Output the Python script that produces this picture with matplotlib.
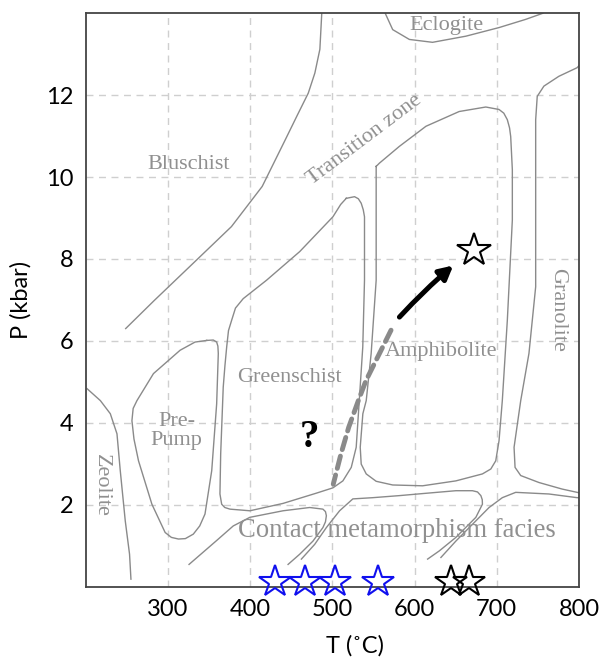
import matplotlib.pyplot as plt

# facies boundaries (T in C, P in kbar)
zeolite_T = [201.5, 217.6, 229.7, 237.8, 241.8, 247.9, 253.1, 254.8]
zeolite_P = [4.83, 4.54, 4.22, 3.73, 2.83, 1.60, 0.79, 0.18]

prepump_T = [347, 355, 359.1, 360.6, 361.1, 359.1, 353.1, 344.9, 338.5, 330.7,
             321, 312.6, 304, 296.4, 280.3, 264, 258.5, 256, 257.5, 262.1,
             282.2, 314.6, 332.8, 347]
prepump_P = [6.01, 6.02, 5.97, 5.87, 5.69, 4.46, 2.83, 1.77, 1.48, 1.28,
             1.17, 1.16, 1.20, 1.32, 2.01, 3.07, 3.60, 4.05, 4.35, 4.54,
             5.20, 5.77, 5.97, 6.01]

blues_T = [487, 484.7, 478.6, 470.6, 457, 442.6, 414.5, 377.1, 330.3, 283.4, 248.4]
blues_P = [14.0, 13.12, 12.54, 12.05, 11.5, 10.91, 9.77, 8.79, 7.89, 6.99, 6.30]

eclog_T = [564.2, 573.3, 593.6, 621.8, 662.4, 702.7, 735.1, 756.1]
eclog_P = [14.0, 13.6, 13.36, 13.29, 13.44, 13.65, 13.85, 14.0]

granul_T = [800, 797.7, 775.5, 757.3, 749.2, 747.3, 747.3, 747.3, 739.1, 729.1,
            721, 722.2, 729.1, 751.3, 779.5, 800]
granul_P = [12.72, 12.67, 12.46, 12.22, 11.97, 11.40, 8.95, 7.32, 5.69, 4.54,
            3.40, 2.91, 2.71, 2.54, 2.38, 2.29]

amph_T = [553.2, 557.2, 581.5, 613.8, 654.2, 686.6, 702.7, 708.5, 712.8, 715.5,
          716.9, 718.9, 718.9, 712.8, 706.7, 702.7, 698.7, 692.7, 682.5, 650.2,
          609.7, 573.3, 553.2, 541.1, 535, 533.8, 537, 541.1, 547.1, 553.2,
          553.2, 553.2]
amph_P = [10.26, 10.34, 10.75, 11.24, 11.60, 11.71, 11.65, 11.56, 11.40, 11.20,
          10.99, 10.18, 8.95, 6.50, 4.54, 3.56, 3.07, 2.87, 2.75, 2.58,
          2.46, 2.48, 2.57, 2.75, 2.99, 3.40, 4.22, 4.54, 5.69, 7.48,
          8.95, 10.26]

green_T = [516.8, 526.9, 531.5, 535, 537.5, 539, 539, 536.9, 532.9, 528.9,
           522.9, 512.7, 500.6, 480.4, 439.9, 399.5, 375.3, 369, 365.2, 363.1,
           364, 367.1, 369.2, 371.3, 373.5, 377.3, 382, 391.4, 419.8, 460.2,
           500.6, 510, 516.8]
green_P = [9.48, 9.52, 9.47, 9.36, 9.20, 9.03, 7.48, 5.85, 4.62, 3.40,
           2.91, 2.58, 2.41, 2.28, 2.03, 1.85, 1.89, 1.93, 2.01, 2.26,
           3.24, 4.87, 5.40, 5.85, 6.25, 6.50, 6.80, 7.03, 7.48, 8.18,
           9.03, 9.33, 9.48]

contA_T = [325.5, 358.3, 379.3, 399.5, 439.9, 472.3, 488.4, 491.5, 492.6, 491.5,
           488.4, 476.3, 460.2, 446]
contA_P = [0.54, 1.11, 1.48, 1.69, 1.85, 1.93, 1.89, 1.83, 1.73, 1.58,
           1.44, 1.11, 0.79, 0.54]

contB_T = [462.2, 478.4, 492.6, 508.7, 524.8, 549.1, 581.4, 609.7, 650.2, 670.4,
           676.5, 680.6, 682.3, 682.5, 674.5, 650.2, 630, 615.8]
contB_P = [0.67, 1.03, 1.44, 1.85, 2.14, 2.17, 2.22, 2.27, 2.34, 2.34,
           2.31, 2.22, 2.12, 2.01, 1.69, 1.20, 0.87, 0.67]

contC_T = [800, 797.7, 763.4, 723, 706.7, 690.6, 670.4, 650.2, 632]
contC_P = [2.17, 2.17, 2.26, 2.30, 2.17, 1.93, 1.52, 1.11, 0.71]

# inferred path
path_T = [571.3, 557.2, 540.8, 531.5, 519.8, 510.4, 501]
path_P = [6.26, 5.69, 5.03, 4.54, 3.89, 3.24, 2.50]
arrow_start = (581.5, 6.58)
arrow_end = (647, 7.84)

peak_T, peak_P = 672.4, 8.22
blue_star_T = [429.8, 466.2, 502.6, 555.1]
black_star_T = [644.2, 666.4]
star_P = 0.1

labels = [
    ("Eclogite", 639, 13.69, 0),
    ("Bluschist", 324.7, 10.3, 0),
    ("Transition zone", 538.5, 10.9, 37),
    ("Greenschist", 447.3, 5.11, 0),
    ("Amphibolite", 632, 5.73, 0),
    ("Pre-\nPump", 310.6, 3.81, 0),
    ("Zeolite", 218.4, 2.46, -90),
    ("Granolite", 773.5, 6.75, -90),
]

line_col = "#8a8a8a"
text_col = "#909090"
serif = ["Liberation Serif", "DejaVu Serif"]
sans = ["Lato", "DejaVu Sans"]

fig = plt.figure(figsize=(6.05, 6.62), dpi=100)
ax = fig.add_axes([0.142, 0.114, 0.815, 0.866])

for T, P in [(zeolite_T, zeolite_P), (prepump_T, prepump_P), (blues_T, blues_P),
             (eclog_T, eclog_P), (granul_T, granul_P), (amph_T, amph_P),
             (green_T, green_P), (contA_T, contA_P), (contB_T, contB_P),
             (contC_T, contC_P)]:
    ax.plot(T, P, color=line_col, lw=1.0)

ax.plot(path_T, path_P, color="#8a8a8a", lw=3.5, ls=(0, (2.6, 1.4)),
        solid_capstyle="round", dash_capstyle="round")
ax.annotate("", xy=arrow_end, xytext=arrow_start,
            arrowprops=dict(arrowstyle="-|>,head_length=0.8,head_width=0.42",
                            lw=3.6, color="black", shrinkA=0, shrinkB=0,
                            connectionstyle="arc3,rad=-0.03"))

ax.plot([peak_T], [peak_P], marker="*", ms=25, mfc="none", mec="black", mew=1.5)
ax.plot(blue_star_T, [star_P] * len(blue_star_T), ls="none", marker="*", ms=24,
        mfc="none", mec="#1010ee", mew=1.5, clip_on=False, zorder=5)
ax.plot(black_star_T, [star_P] * len(black_star_T), ls="none", marker="*", ms=24,
        mfc="none", mec="black", mew=1.5, clip_on=False, zorder=5)

for txt, x, y, rot in labels:
    ax.text(x, y, txt, ha="center", va="center", rotation=rot, color=text_col,
            fontsize=16, family=serif, linespacing=1.0)
ax.text(578.3, 1.36, "Contact metamorphism facies", ha="center", va="center",
        color=text_col, fontsize=19.2, family=serif)
ax.text(472.3, 3.64, "?", ha="center", va="center", color="black",
        fontsize=28, fontweight="bold", family=serif)

ax.set_xlim(200, 800)
ax.set_ylim(0, 14)
ax.set_xticks([300, 400, 500, 600, 700, 800])
ax.set_yticks([2, 4, 6, 8, 10, 12])
ax.grid(True, color="#cfcfcf", lw=1.0, ls=(0, (5, 4)))
ax.set_axisbelow(True)
ax.tick_params(length=0, pad=9, labelsize=17)
for lab in ax.get_xticklabels() + ax.get_yticklabels():
    lab.set_family(sans)
for sp in ax.spines.values():
    sp.set_color("#444444")
    sp.set_linewidth(1.3)

ax.set_xlabel("T (˚C)", fontsize=17, family=sans, labelpad=6)
ax.set_ylabel("P (kbar)", fontsize=17, family=sans, labelpad=8)
ax.xaxis.set_label_coords(0.545, -0.085)
ax.yaxis.set_label_coords(-0.11, 0.5)

fig.savefig("out.png", dpi=100)
